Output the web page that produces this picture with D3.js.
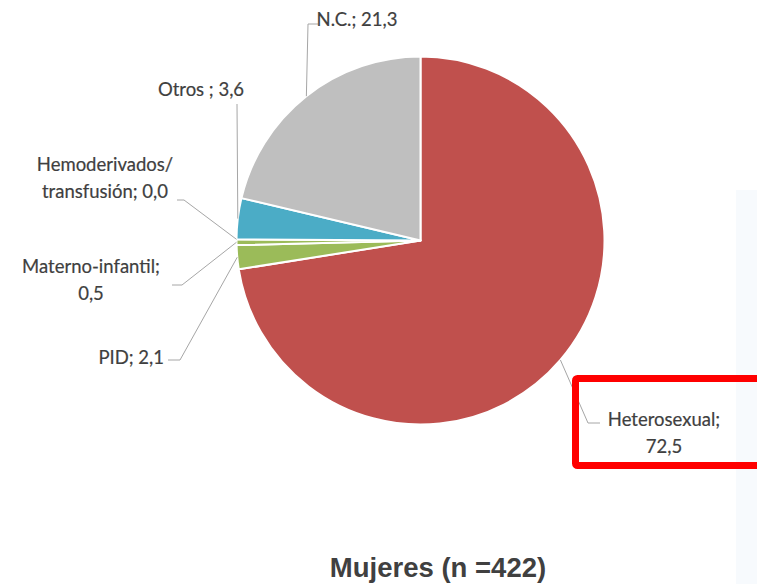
<!DOCTYPE html>
<html>
<head>
<meta charset="utf-8">
<script src="https://cdn.jsdelivr.net/npm/d3@7"></script>
<style>
  html, body { margin: 0; padding: 0; background: #fff; }
  svg { display: block; }
</style>
</head>
<body>
<svg id="chart" width="757" height="584"></svg>
<script>
// data
const categories = ["Heterosexual", "PID", "Materno-infantil", "Hemoderivados/transfusión", "Otros", "N.C."];
const values = [72.5, 2.1, 0.5, 0.0, 3.6, 21.3];
const labelLines = [
    ["Heterosexual;", "72,5"],
    ["PID; 2,1"],
    ["Materno-infantil;", "0,5"],
    ["Hemoderivados/", "transfusión; 0,0"],
    ["Otros ; 3,6"],
    ["N.C.; 21,3"]
];
const colors = ["#C0504D", "#9BBB59", "#9BBB59", "#8064A2", "#4BACC6", "#BFBFBF"];
const title = "Mujeres (n =422)";

// label layout: text position + leader start/elbow
const layout = {
    "Heterosexual": {x: 664, y: 420, anchor: "middle", path: [[600, 423], [588, 423]]},
    "PID": {x: 164, y: 358, anchor: "end", path: [[168, 360], [180, 360]]},
    "Materno-infantil": {x: 91, y: 267, anchor: "middle", path: [[172, 285], [182, 285]]},
    "Hemoderivados/transfusión": {x: 105, y: 165, anchor: "middle", path: [[177, 200], [184, 200]]},
    "Otros": {x: 201, y: 90, anchor: "middle", path: [[237, 104]]},
    "N.C.": {x: 357, y: 20, anchor: "middle", path: [[318, 24], [308, 24]]}
};

const cx = 420.5, cy = 240.5, R = 184;
const svg = d3.select("#chart");

// faint background strip on the right edge
svg.append("rect").attr("x", 736).attr("y", 190).attr("width", 21).attr("height", 394).attr("fill", "#F7FAFD");

const pie = d3.pie().sort(null).value(d => d.v);
const arcs = pie(categories.map((c, i) => ({c: c, v: values[i], i: i})));
const arc = d3.arc().innerRadius(0).outerRadius(R);

const g = svg.append("g").attr("transform", `translate(${cx},${cy})`);
g.selectAll("path")
    .data(arcs.filter(d => d.data.v > 0))
    .enter().append("path")
    .attr("d", arc)
    .attr("fill", d => colors[d.data.i])
    .attr("stroke", "#fff")
    .attr("stroke-width", 2)
    .attr("stroke-linejoin", "round");

// leader lines
const line = d3.line();
arcs.forEach(d => {
    const L = layout[d.data.c];
    const a = (d.startAngle + d.endAngle) / 2;
    const end = [cx + R * Math.sin(a), cy - R * Math.cos(a)];
    svg.append("path")
        .attr("d", line(L.path.concat([end])))
        .attr("fill", "none")
        .attr("stroke", "#A6A6A6")
        .attr("stroke-width", 1);
});

// labels
arcs.forEach(d => {
    const L = layout[d.data.c];
    const t = svg.append("text")
        .attr("text-anchor", L.anchor)
        .attr("font-family", "Lato, 'Open Sans', sans-serif")
        .attr("font-size", 18.5)
        .attr("fill", "#3F3F3F")
        .attr("stroke", "#3F3F3F")
        .attr("stroke-width", 0.2);
    labelLines[d.data.i].forEach((s, k) => {
        t.append("tspan")
            .attr("x", L.x)
            .attr("y", L.y + k * 27)
            .attr("dy", "0.35em")
            .text(s);
    });
});

// highlight box
svg.append("rect")
    .attr("x", 575.5).attr("y", 378.5)
    .attr("width", 200).attr("height", 87)
    .attr("rx", 2)
    .attr("fill", "none")
    .attr("stroke", "#FF0000")
    .attr("stroke-width", 7);

// title
svg.append("text")
    .attr("x", 438).attr("y", 577)
    .attr("text-anchor", "middle")
    .attr("font-family", "'Liberation Sans', Arial, sans-serif")
    .attr("font-weight", "bold")
    .attr("font-size", 27.5)
    .attr("fill", "#404040")
    .text(title);
</script>
</body>
</html>
